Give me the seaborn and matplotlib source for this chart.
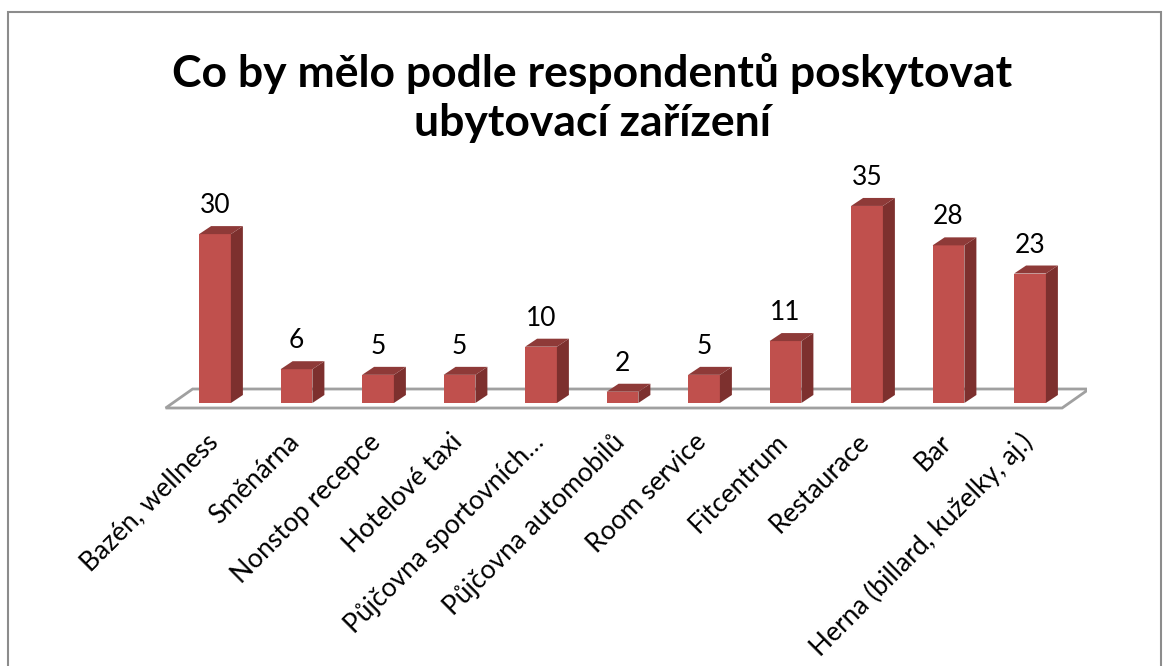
import numpy as np
import pandas as pd
import matplotlib
matplotlib.use('Agg')
import matplotlib.pyplot as plt
import seaborn as sns
from matplotlib.patches import Polygon, Rectangle
from matplotlib.transforms import ScaledTranslation

# data
kategorie = ['Bazén, wellness', 'Směnárna', 'Nonstop recepce', 'Hotelové taxi',
             'Půjčovna sportovních…', 'Půjčovna automobilů', 'Room service',
             'Fitcentrum', 'Restaurace', 'Bar', 'Herna (billard, kuželky, aj.)']
pocty = [30, 6, 5, 5, 10, 2, 5, 11, 35, 28, 23]
nadpis = 'Co by mělo podle respondentů poskytovat\nubytovací zařízení'

df = pd.DataFrame({'kategorie': kategorie, 'pocet': pocty})

sns.set_theme(style='white')
plt.rcParams['font.family'] = ['Lato', 'DejaVu Sans']

W, H = 1168, 666
fig = plt.figure(figsize=(W / 100, H / 100), dpi=100)

# axes placed in pixels so the fake 3D depth can be given in pixels
x_lo, x_hi = -0.7, 10.7
y_lo, y_hi = -2, 40
sx, sy = 81.5, 5.63          # px per data unit
left_px = 215 + x_lo * sx
bottom_px = 403 - y_lo * sy  # from top of image
ax = fig.add_axes([left_px / W, 1 - bottom_px / H,
                   (x_hi - x_lo) * sx / W, (y_hi - y_lo) * sy / H])

sns.barplot(data=df, x='kategorie', y='pocet', color='#C0504D', saturation=1,
            width=0.39, ax=ax, zorder=3, linewidth=0, edgecolor='none')
ax.set_xlim(x_lo, x_hi)
ax.set_ylim(y_lo, y_hi)

# depth of the bars (px -> data)
ddx, ddy = 12 / sx, 8 / sy
for p, v in zip(ax.patches, pocty):
    x0 = p.get_x()
    x1 = x0 + p.get_width()
    h = p.get_height()
    ax.add_patch(Polygon([(x1, 0), (x1 + ddx, ddy), (x1 + ddx, h + ddy), (x1, h)],
                         closed=True, fc='#7D302E', ec='none', zorder=3))
    ax.add_patch(Polygon([(x0, h), (x0 + ddx, h + ddy), (x1 + ddx, h + ddy), (x1, h)],
                         closed=True, fc='#8E3A38', ec='none', zorder=3))
    ax.annotate(str(v), (x0 + p.get_width() / 2, h), xytext=(0, 21),
                textcoords='offset pixels', ha='center', va='baseline',
                fontsize=19, color='black')

# floor outline
fl, fr = -0.52, 10.48
front = (-7 / sx, -5 / sy)
back = (20 / sx, 14 / sy)
floor = [(fl + front[0], front[1]), (fl + back[0], back[1]),
         (fr + back[0], back[1]), (fr + front[0], front[1])]
ax.add_patch(Polygon(floor, closed=True, fill=False, ec='#A0A0A0', lw=2, zorder=1))

ax.set_xlabel('')
ax.set_ylabel('')
ax.set_yticks([])
ax.set_xticks(range(len(kategorie)))
ax.set_xticklabels(kategorie, rotation=45, ha='right', va='baseline',
                   rotation_mode='anchor', fontsize=19, color='black')
ax.tick_params(axis='x', length=0, pad=21)
posun = ScaledTranslation(4 / 100, 0, fig.dpi_scale_trans)
for lbl in ax.get_xticklabels():
    lbl.set_transform(lbl.get_transform() + posun)
sns.despine(ax=ax, left=True, bottom=True)
ax.patch.set_alpha(0)

fig.text(592 / W, 1 - 98 / H, nadpis, ha='center', va='center',
         fontsize=32, fontweight='bold', linespacing=1.3, color='black')

fig.add_artist(Rectangle((8 / W, -0.05), (1161 - 8) / W, 1 - 12 / H + 0.05,
                         transform=fig.transFigure, fill=False,
                         ec='#8C8C8C', lw=1.5))

fig.savefig('out.png', dpi=100)
